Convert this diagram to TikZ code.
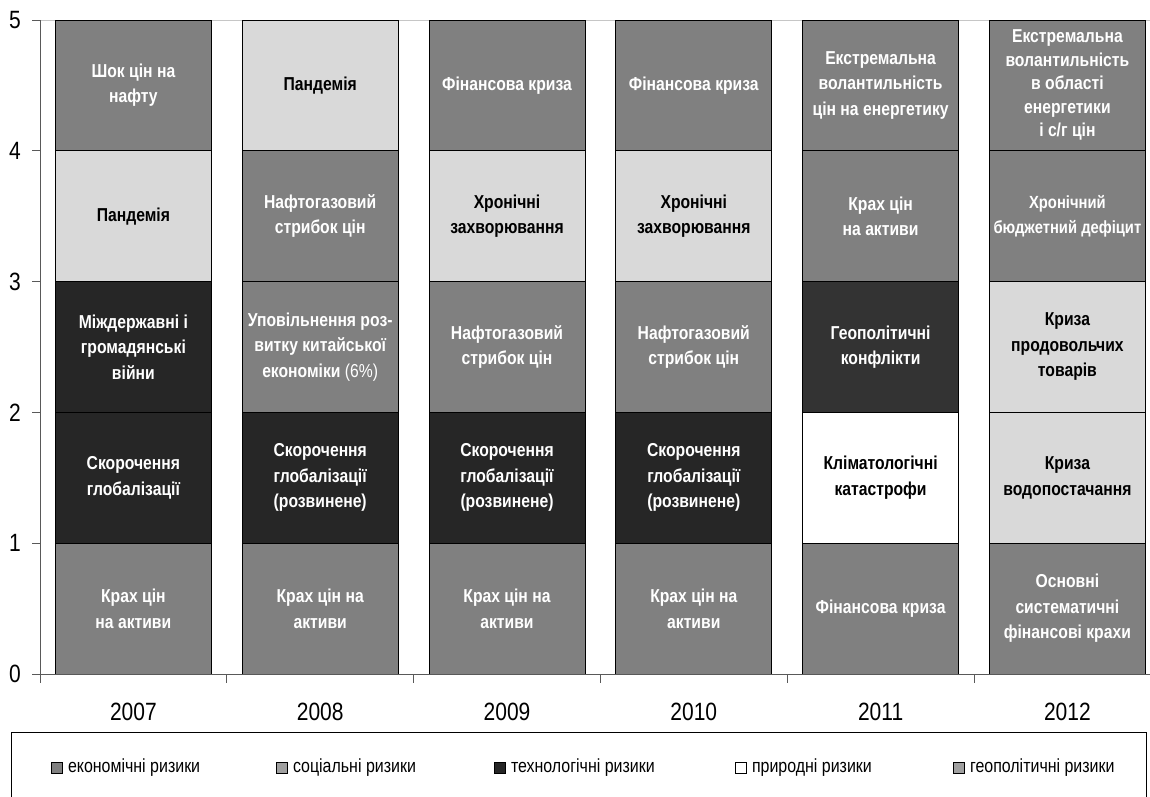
\documentclass[tikz,border=0pt]{standalone}
\usepackage{fontspec}
\setmainfont{Liberation Sans}[FakeStretch=0.84]
\usepackage{tikz}
\usetikzlibrary{positioning}

\definecolor{econgray}{HTML}{808080}
\definecolor{socgray}{HTML}{D9D9D9}
\definecolor{techgray}{HTML}{262626}
\definecolor{geogray}{HTML}{A0A0A0}
\definecolor{axisgray}{HTML}{595959}

\begin{document}
\begin{tikzpicture}[x=186.8pt, y=130.8pt,
    seg/.style={draw=black, line width=0.8pt, inner sep=0pt, minimum width=156pt,
        minimum height=130.8pt, align=center, font=\bfseries\fontsize{18.7pt}{25.5pt}\selectfont},
    econ/.style={seg, fill=econgray, text=white},
    social/.style={seg, fill=socgray, text=black},
    tech/.style={seg, fill=techgray, text=white},
    nature/.style={seg, fill=white, text=black},
    ticklabel/.style={font=\fontsize{25pt}{27pt}\selectfont, inner sep=0pt},
    legsq/.style={draw=black, line width=0.6pt, minimum size=11pt, inner sep=0pt},
    legtext/.style={font=\fontsize{19pt}{21pt}\selectfont, inner sep=0pt}]
\useasboundingbox (-40pt,-122pt) rectangle (1110pt,674pt);

\draw[gray!45, line width=0.8pt] (0,5) -- (5.9422,5);

% 2007
\node[econ] (s07a) at (0.5,0.5) {Крах цін\\на активи};
\node[tech] (s07b) at (0.5,1.5) {Скорочення\\глобалізації};
\node[tech] (s07c) at (0.5,2.5) {Міждержавні і\\громадянські\\війни};
\node[social] (s07d) at (0.5,3.5) {Пандемія};
\node[econ] (s07e) at (0.5,4.5) {Шок цін на\\нафту};
% 2008
\node[econ] (s08a) at (1.5,0.5) {Крах цін на\\активи};
\node[tech] (s08b) at (1.5,1.5) {Скорочення\\глобалізації\\(розвинене)};
\node[econ] (s08c) at (1.5,2.5) {Уповільнення роз-\\витку китайської\\економіки {\mdseries(6\%)}};
\node[econ] (s08d) at (1.5,3.5) {Нафтогазовий\\стрибок цін};
\node[social] (s08e) at (1.5,4.5) {Пандемія};
% 2009
\node[econ] (s09a) at (2.5,0.5) {Крах цін на\\активи};
\node[tech] (s09b) at (2.5,1.5) {Скорочення\\глобалізації\\(розвинене)};
\node[econ] (s09c) at (2.5,2.5) {Нафтогазовий\\стрибок цін};
\node[social] (s09d) at (2.5,3.5) {Хронічні\\захворювання};
\node[econ] (s09e) at (2.5,4.5) {Фінансова криза};
% 2010
\node[econ] (s10a) at (3.5,0.5) {Крах цін на\\активи};
\node[tech] (s10b) at (3.5,1.5) {Скорочення\\глобалізації\\(розвинене)};
\node[econ] (s10c) at (3.5,2.5) {Нафтогазовий\\стрибок цін};
\node[social] (s10d) at (3.5,3.5) {Хронічні\\захворювання};
\node[econ] (s10e) at (3.5,4.5) {Фінансова криза};
% 2011
\node[econ] (s11a) at (4.5,0.5) {Фінансова криза};
\node[nature] (s11b) at (4.5,1.5) {Кліматологічні\\катастрофи};
\node[tech, fill=black!80] (s11c) at (4.5,2.5) {Геополітичні\\конфлікти};
\node[econ] (s11d) at (4.5,3.5) {Крах цін\\на активи};
\node[econ] (s11e) at (4.5,4.5) {Екстремальна\\волантильність\\цін на енергетику};
% 2012
\node[econ] (s12a) at (5.5,0.5) {Основні\\систематичні\\фінансові крахи};
\node[social] (s12b) at (5.5,1.5) {Криза\\водопостачання};
\node[social] (s12c) at (5.5,2.5) {Криза\\продовольчих\\товарів};
\node[econ, font=\bfseries\fontsize{17.6pt}{25.5pt}\selectfont] (s12d) at (5.5,3.5) {Хронічний\\бюджетний дефіцит};
\node[econ, font=\bfseries\fontsize{18.7pt}{23.5pt}\selectfont] (s12e) at (5.5,4.5) {Екстремальна\\волантильність\\в області\\енергетики\\і с/г цін};

% axes
\draw[axisgray, line width=0.8pt] (0,0) -- (0,5);
\draw[axisgray, line width=0.8pt] (0,0) -- (5.9422,0);
\draw[axisgray, line width=0.8pt] (0,0) -- ++(-8pt,0);
\draw[axisgray, line width=0.8pt] (0,1) -- ++(-8pt,0);
\draw[axisgray, line width=0.8pt] (0,2) -- ++(-8pt,0);
\draw[axisgray, line width=0.8pt] (0,3) -- ++(-8pt,0);
\draw[axisgray, line width=0.8pt] (0,4) -- ++(-8pt,0);
\draw[axisgray, line width=0.8pt] (0,5) -- ++(-8pt,0);
\draw[axisgray, line width=0.8pt] (0,0) -- ++(0,-9pt);
\draw[axisgray, line width=0.8pt] (1,0) -- ++(0,-9pt);
\draw[axisgray, line width=0.8pt] (2,0) -- ++(0,-9pt);
\draw[axisgray, line width=0.8pt] (3,0) -- ++(0,-9pt);
\draw[axisgray, line width=0.8pt] (4,0) -- ++(0,-9pt);
\draw[axisgray, line width=0.8pt] (5,0) -- ++(0,-9pt);

\node[ticklabel, anchor=east] (t0) at ([xshift=-19pt]0,0) {0};
\node[ticklabel, anchor=east] (t1) at ([xshift=-19pt]0,1) {1};
\node[ticklabel, anchor=east] (t2) at ([xshift=-19pt]0,2) {2};
\node[ticklabel, anchor=east] (t3) at ([xshift=-19pt]0,3) {3};
\node[ticklabel, anchor=east] (t4) at ([xshift=-19pt]0,4) {4};
\node[ticklabel, anchor=east] (t5) at ([xshift=-19pt]0,5) {5};

\node[ticklabel] (y07) at ([yshift=-38pt]0.5,0) {2007};
\node[ticklabel] (y08) at ([yshift=-38pt]1.5,0) {2008};
\node[ticklabel] (y09) at ([yshift=-38pt]2.5,0) {2009};
\node[ticklabel] (y10) at ([yshift=-38pt]3.5,0) {2010};
\node[ticklabel] (y11) at ([yshift=-38pt]4.5,0) {2011};
\node[ticklabel] (y12) at ([yshift=-38pt]5.5,0) {2012};

% legend
\draw[black, line width=0.6pt] (-29pt,-58pt) rectangle (1106pt,-135pt);
\node[legsq, fill=econgray] (l1) at (17pt,-93.5pt) {};
\node[legtext, right=5pt of l1] (lt1) {економічні ризики};
\node[legsq, fill=geogray] (l2) at (242pt,-93.5pt) {};
\node[legtext, right=5pt of l2] (lt2) {соціальні ризики};
\node[legsq, fill=techgray] (l3) at (460pt,-93.5pt) {};
\node[legtext, right=5pt of l3] (lt3) {технологічні ризики};
\node[legsq, fill=white] (l4) at (701pt,-93.5pt) {};
\node[legtext, right=5pt of l4] (lt4) {природні ризики};
\node[legsq, fill=geogray] (l5) at (919pt,-93.5pt) {};
\node[legtext, right=5pt of l5] (lt5) {геополітичні ризики};
\end{tikzpicture}
\end{document}
